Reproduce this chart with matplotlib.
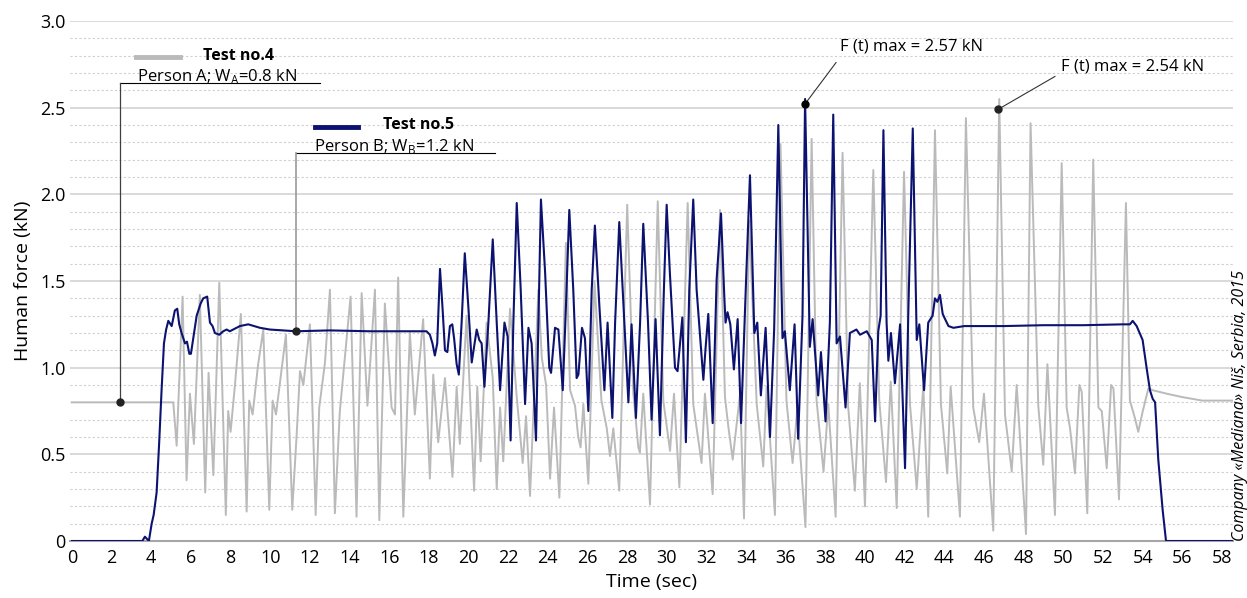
import matplotlib
matplotlib.use("Agg")
import matplotlib.pyplot as plt
from matplotlib.ticker import MultipleLocator, FuncFormatter

plt.rcParams['font.family'] = ['Open Sans', 'DejaVu Sans']
plt.rcParams['mathtext.fontset'] = 'custom'
plt.rcParams['mathtext.rm'] = 'Open Sans'

# Test no.4 (person A) - time (s) and force (kN)
t4 = [0, 2.0, 4.0, 5.11, 5.28, 5.58, 5.78, 5.95, 6.15, 6.45, 6.72, 6.89, 7.13, 7.43, 7.76, 7.88,
      8.0, 8.22, 8.52, 8.81, 8.94, 9.11, 9.39, 9.65, 9.95, 10.12, 10.29, 10.79, 11.11, 11.33, 11.50,
      11.67, 12.0, 12.29, 12.47, 12.76, 13.01, 13.26, 13.51, 14.05, 14.35, 14.61, 14.9, 15.28, 15.50,
      15.78, 16.12, 16.29, 16.45, 16.71, 17.04, 17.29, 17.71, 18.05, 18.22, 18.47, 18.81, 19.19, 19.40,
      19.56, 19.9, 20.28, 20.44, 20.61, 20.91, 21.22, 21.42, 21.59, 21.75, 22.09, 22.43, 22.73, 22.90,
      23.1, 23.52, 23.69, 23.91, 24.11, 24.31, 24.58, 24.91, 25.12, 25.37, 25.53, 25.65, 25.79, 26.04,
      26.35, 26.7, 26.97, 27.13, 27.3, 27.6, 28.0, 28.31, 28.56, 28.64, 28.81, 29.15, 29.54, 29.82,
      30.16, 30.36, 30.63, 31.05, 31.33, 31.75, 31.92, 32.31, 32.68, 32.93, 33.1, 33.32, 33.69, 33.89,
      34.15, 34.53, 34.86, 35.03, 35.45, 35.73, 36.03, 36.34, 36.57, 36.99, 37.3, 37.55, 37.9, 38.14,
      38.51, 38.86, 39.14, 39.48, 39.73, 39.99, 40.41, 40.71, 41.05, 41.29, 41.59, 41.96, 42.26, 42.6,
      42.93, 43.18, 43.52, 43.82, 44.14, 44.31, 44.78, 45.08, 45.45, 45.75, 45.99, 46.46, 46.76, 47.05,
      47.39, 47.64, 48.11, 48.34, 48.73, 48.98, 49.19, 49.57, 49.91, 50.16, 50.33, 50.58, 50.8, 50.92,
      51.2, 51.5, 51.76, 51.93, 52.18, 52.4, 52.52, 52.8, 53.15, 53.35, 53.6, 53.77, 54.0, 54.28, 54.5,
      55.2, 56.0, 57.0, 58.0, 58.55]
f4 = [0.80, 0.80, 0.80, 0.80, 0.55, 1.41, 0.35, 0.85, 0.56, 1.42, 0.28, 0.97, 0.38, 1.49, 0.15, 0.75,
      0.63, 0.90, 1.31, 0.17, 0.81, 0.73, 1.02, 1.22, 0.18, 0.81, 0.73, 1.19, 0.18, 0.61, 0.98,
      0.90, 1.25, 0.15, 0.77, 1.03, 1.45, 0.16, 0.75, 1.41, 0.14, 1.43, 0.78, 1.45, 0.12,
      1.37, 0.77, 0.73, 1.52, 0.14, 1.20, 0.73, 1.28, 0.36, 0.96, 0.57, 0.94, 0.37, 0.89,
      0.56, 1.30, 0.29, 0.89, 0.46, 1.26, 0.94, 0.30, 0.77, 0.46, 1.34, 0.83, 0.45, 0.72,
      0.26, 1.45, 1.06, 0.90, 0.36, 0.77, 0.25, 1.72, 0.87, 0.78, 0.60, 0.54, 0.79, 0.33,
      1.50, 0.81, 0.65, 0.49, 0.65, 0.29, 1.94, 0.85, 0.54, 0.51, 0.85, 0.21, 1.96, 0.81,
      0.52, 0.85, 0.31, 1.95, 0.79, 0.45, 0.85, 0.27, 1.91, 0.83, 0.66, 0.47, 0.85, 0.13,
      1.85, 0.79, 0.43, 0.89, 0.15, 2.29, 0.81, 0.45, 0.75, 0.08, 2.32, 0.81, 0.40, 0.79,
      0.14, 2.24, 0.78, 0.29, 0.91, 0.20, 2.14, 0.81, 0.34, 0.92, 0.19, 2.13, 0.79, 0.30,
      0.90, 0.14, 2.37, 0.79, 0.39, 0.89, 0.14, 2.44, 0.77, 0.57, 0.85, 0.06, 2.55, 0.73,
      0.40, 0.90, 0.04, 2.41, 0.78, 0.44, 1.02, 0.15, 2.18, 0.77, 0.65, 0.39, 0.90, 0.86,
      0.16, 2.20, 0.77, 0.75, 0.42, 0.90, 0.88, 0.24, 1.95, 0.81, 0.71, 0.63, 0.75, 0.88, 0.87,
      0.85, 0.83, 0.81, 0.81, 0.81]

# Test no.5 (person B)
t5 = [0, 3.55, 3.68, 3.88, 4.02, 4.12, 4.27, 4.40, 4.52, 4.64, 4.75, 4.86, 5.03, 5.19, 5.31, 5.41,
      5.53, 5.70, 5.80, 5.92, 6.0, 6.12, 6.29, 6.49, 6.62, 6.82, 6.96, 7.09, 7.21, 7.43, 7.63, 7.80,
      7.96, 8.47, 8.89, 9.48, 9.98, 11.3, 13.0, 15.0, 17.0, 17.88, 18.05, 18.18, 18.30, 18.42, 18.56,
      18.69, 18.81, 18.93, 19.06, 19.18, 19.27, 19.40, 19.51, 19.65, 19.81, 19.99, 20.16, 20.41, 20.54,
      20.66, 20.80, 21.0, 21.22, 21.42, 21.59, 21.81, 21.97, 22.12, 22.26, 22.43, 22.63, 22.85, 23.02,
      23.18, 23.4, 23.52, 23.65, 23.86, 24.07, 24.16, 24.36, 24.53, 24.75, 24.91, 25.08, 25.28, 25.45,
      25.54, 25.72, 25.87, 26.04, 26.21, 26.37, 26.6, 26.85, 27.01, 27.25, 27.39, 27.6, 27.8, 28.06,
      28.22, 28.44, 28.65, 28.81, 29.05, 29.23, 29.43, 29.65, 29.85, 29.99, 30.15, 30.41, 30.54, 30.78,
      30.96, 31.13, 31.33, 31.5, 31.84, 31.95, 32.09, 32.31, 32.51, 32.73, 32.9, 32.96, 33.06, 33.2,
      33.38, 33.57, 33.74, 33.99, 34.19, 34.41, 34.56, 34.74, 34.98, 35.2, 35.41, 35.62, 35.83, 35.95,
      36.2, 36.44, 36.62, 36.84, 36.97, 37.21, 37.35, 37.63, 37.77, 38.0, 38.22, 38.39, 38.56, 38.73,
      39.01, 39.23, 39.56, 39.74, 40.08, 40.33, 40.5, 40.66, 40.78, 40.92, 41.08, 41.17, 41.30, 41.5,
      41.76, 42.01, 42.18, 42.4, 42.6, 42.73, 42.97, 43.18, 43.4, 43.52, 43.64, 43.77, 43.91, 44.03,
      44.2, 44.45, 45.0, 47.0, 49.0, 51.0, 53.0, 53.35, 53.49, 53.69, 53.99, 54.19, 54.36, 54.5,
      54.62, 54.78, 55.0, 55.17, 58.55]
f5 = [0, 0, 0.025, 0, 0.10, 0.15, 0.28, 0.57, 0.87, 1.14, 1.22, 1.27, 1.24, 1.33, 1.34, 1.25,
      1.20, 1.14, 1.15, 1.08, 1.08, 1.17, 1.30, 1.37, 1.40, 1.41, 1.26, 1.24, 1.20, 1.19, 1.21, 1.22,
      1.21, 1.24, 1.25, 1.23, 1.22, 1.21, 1.215, 1.21, 1.21, 1.21, 1.19, 1.14, 1.07, 1.14, 1.57,
      1.34, 1.10, 1.09, 1.24, 1.25, 1.17, 1.02, 0.96, 1.26, 1.66, 1.35, 1.03, 1.22, 1.16,
      1.14, 0.89, 1.26, 1.74, 1.26, 0.87, 1.26, 1.18, 0.58, 1.26, 1.95, 1.45, 0.79, 1.23,
      1.14, 0.58, 1.26, 1.97, 1.55, 1.00, 0.97, 1.23, 1.22, 0.87, 1.35, 1.91, 1.45, 0.94,
      0.96, 1.23, 1.17, 0.75, 1.45, 1.82, 1.35, 0.87, 1.26, 0.71, 1.26, 1.84, 1.39, 0.80,
      1.25, 0.71, 1.26, 1.83, 1.26, 0.70, 1.28, 0.61, 1.45, 1.94, 1.55, 1.00, 0.98, 1.29,
      0.57, 1.45, 1.97, 1.45, 0.93, 1.11, 1.31, 0.68, 1.51, 1.89, 1.40, 1.26, 1.32, 1.25,
      0.99, 1.28, 0.68, 1.49, 2.11, 1.20, 1.26, 0.84, 1.23, 0.60, 1.22, 2.40, 1.17, 1.21,
      0.87, 1.25, 0.59, 1.30, 2.55, 1.12, 1.28, 0.84, 1.09, 0.69, 1.26, 2.46, 1.14, 1.18,
      0.77, 1.20, 1.22, 1.19, 1.21, 1.16, 0.69, 1.21, 1.30, 2.37, 1.26, 1.04, 1.20, 0.91,
      1.25, 0.42, 1.34, 2.38, 1.16, 1.25, 0.87, 1.26, 1.30, 1.40, 1.38, 1.42, 1.31, 1.28,
      1.24, 1.23, 1.24, 1.24, 1.245, 1.245, 1.25, 1.25, 1.27, 1.24, 1.16, 1.00, 0.87, 0.82,
      0.80, 0.47, 0.18, 0.0, 0.0]

xticks = list(range(0, 59, 2))

fig = plt.figure(figsize=(12.47, 5.98), dpi=100)
ax = fig.add_axes([0.0561, 0.0953, 0.9327, 0.8696])

ax.plot(t4, f4, color='#bababa', lw=1.4, zorder=3)
ax.plot(t5, f5, color='#0c1270', lw=1.5, zorder=4)

ax.set_xlim(-0.1, 58.55)
ax.set_ylim(0, 3.0)
ax.set_xticks(xticks)
ax.yaxis.set_major_locator(MultipleLocator(0.5))
ax.yaxis.set_minor_locator(MultipleLocator(0.1))
ax.yaxis.set_major_formatter(FuncFormatter(lambda v, p: '0' if v == 0 else '%.1f' % v))
ax.grid(which='major', axis='y', color='#d9d9d9', lw=1.4, zorder=0)
ax.grid(which='minor', axis='y', color='#cfcfcf', lw=0.8, ls=(0, (2, 2)), zorder=0)
for s in ['top', 'right', 'left']:
    ax.spines[s].set_visible(False)
ax.spines['bottom'].set_color('#a6a6a6')
ax.spines['bottom'].set_linewidth(1.5)
ax.tick_params(axis='both', which='both', length=0, labelsize=13, pad=6)
ax.tick_params(axis='y', pad=3)
ax.set_xlabel('Time (sec)', fontsize=14, labelpad=4)
ax.set_ylabel('Human force (kN)', fontsize=14, labelpad=6)

# legend / annotation A
ax.plot([3.23, 5.45], [2.79, 2.79], color='#bababa', lw=3.5, zorder=5)
ax.text(6.6, 2.80, 'Test no.4', fontsize=11.5, fontweight='bold', va='center')
ax.text(3.28, 2.653, r'Person A; W$_\mathrm{A}$=0.8 kN', fontsize=12, va='baseline')
ax.plot([2.42, 12.5], [2.643, 2.643], color='black', lw=0.8, zorder=5)
ax.plot([2.42, 2.42], [2.643, 0.80], color='#404040', lw=0.9, zorder=5)
ax.plot([2.42], [0.80], 'o', color='#222222', ms=5, zorder=6)

# legend / annotation B
ax.plot([12.25, 14.42], [2.389, 2.389], color='#0c1270', lw=3.5, zorder=5)
ax.text(15.68, 2.40, 'Test no.5', fontsize=11.5, fontweight='bold', va='center')
ax.text(12.2, 2.249, r'Person B; W$_\mathrm{B}$=1.2 kN', fontsize=12, va='baseline')
ax.plot([11.3, 21.33], [2.239, 2.239], color='black', lw=0.8, zorder=5)
ax.plot([11.3, 11.3], [2.239, 1.21], color='#999999', lw=1.2, zorder=5)
ax.plot([11.3], [1.21], 'o', color='#222222', ms=5, zorder=6)

# peak annotations
ax.plot([36.96, 38.53], [2.52, 2.76], color='#333333', lw=0.8, zorder=5)
ax.plot([36.96], [2.52], 'o', color='black', ms=5, zorder=6)
ax.text(38.73, 2.85, 'F (t) max = 2.57 kN', fontsize=12, va='center')
ax.plot([46.70, 49.57], [2.49, 2.68], color='#333333', lw=0.8, zorder=5)
ax.plot([46.70], [2.49], 'o', color='#222222', ms=5, zorder=6)
ax.text(49.87, 2.74, 'F (t) max = 2.54 kN', fontsize=12, va='center')

fig.text(0.9945, 0.095, 'Company «Mediana» Niš, Serbia, 2015', rotation=90, fontsize=11.5,
         style='italic', ha='center', va='bottom')

fig.savefig('out.png', dpi=100)
